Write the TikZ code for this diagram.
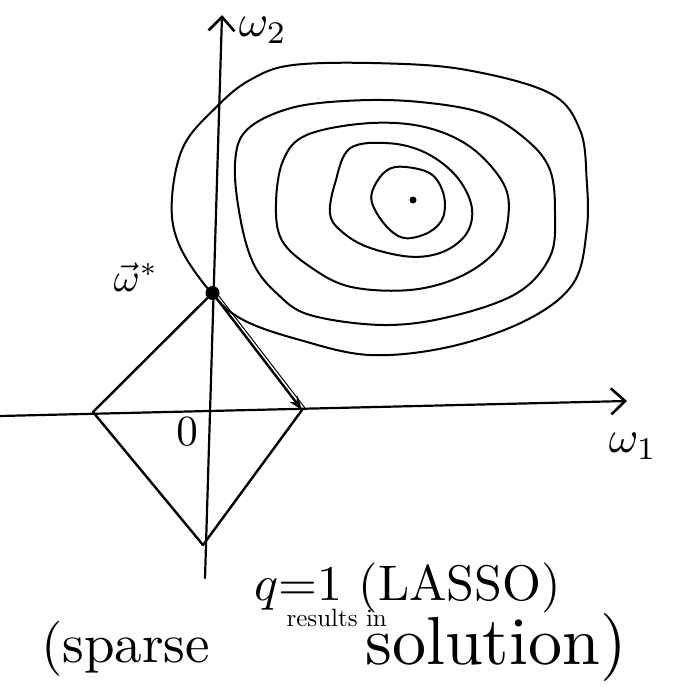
\documentclass[tikz,border=0pt]{standalone}
\usetikzlibrary{arrows.meta}
\begin{document}
\begin{tikzpicture}[x=1pt,y=-1pt, line cap=round, line join=round,
  axis/.style={line width=2.2pt, -{Straight Barb[length=14pt,width=26pt,line width=2.6pt]}},
  contour/.style={line width=2pt},
  edgeline/.style={line width=2.4pt},
  lab/.style={inner sep=0pt},
  dot/.style={circle, fill, inner sep=0pt}]
\useasboundingbox (0,0) rectangle (677,692);

% axes
\coordinate (xs) at (0,416);
\coordinate (xe) at (627,401);
\coordinate (ys) at (205,578);
\coordinate (ye) at (222,15);
\draw[axis] (xs) -- (xe);
\draw[axis] (ys) -- (ye);

% diamond
\coordinate (top) at (212.5,293);
\coordinate (right) at (302,410);
\coordinate (bottom) at (203,545);
\coordinate (left) at (93,412);
\draw[edgeline] (top) -- (left) -- (bottom) -- (right);
\draw[edgeline, -{Stealth[length=14pt,width=10pt]}] (top) -- (right);
\draw[line width=1pt] ([xshift=4pt]top) -- ([xshift=3pt,yshift=2pt]right);

% contours
\draw[contour] plot[smooth cycle, tension=0.6] coordinates {
 (293.3,65) (383.3,63.3) (466.7,70) (550,93.3) (580,130) (586.7,180)
 (586.7,230) (573.3,283.3) (526.7,320) (450,346.7) (370,355) (300,340)
 (243.3,320) (211.7,293.3) (180,246.7) (171.7,203.3) (183.3,146.7)
 (216.7,106.7) (250,80)};
\draw[contour] plot[smooth cycle, tension=0.6] coordinates {
 (290,108.3) (350,100.7) (416.7,101.7) (483.3,113.3) (526.7,140) (550,170)
 (555,213.3) (550,256.7) (516.7,293.3) (450,316.7) (383.3,325) (310,315)
 (276.7,293.3) (253.3,263.3) (240,216.7) (235,163.3) (246.7,130)};
\draw[contour] plot[smooth cycle, tension=0.6] coordinates {
 (306.7,135) (366.7,123.3) (423.3,126.7) (470,146.7) (503.3,183.3)
 (508.3,216.7) (496.7,250) (460,276.7) (410,290) (350,286.7) (310,266.7)
 (281.7,240) (276,203.3) (283.3,160)};
\draw[contour] plot[smooth cycle, tension=0.6] coordinates {
 (350,148.3) (390,143.3) (426.7,153.3) (456.7,176.7) (471.7,206.7)
 (466.7,233.3) (443.3,251.7) (410,256.7) (366.7,246.7) (340,230)
 (330,213.3) (335,183.3)};
\draw[contour] plot[smooth cycle, tension=0.6] coordinates {
 (400,166.7) (430,173.3) (443.3,193.3) (443.3,216.7) (430,231.7)
 (406.7,238.3) (390,230) (375,210) (371.7,193.3) (383.3,173.3)};

% points
\node[dot, minimum size=14pt] (wstar) at (top) {};
\node[dot, minimum size=7pt] (wmin) at (413,200) {};

% labels
\node[lab, scale=4.5] (lw2) at (263,30) {$\omega_2$};
\node[lab, scale=4] (lws) at (136,277) {$\vec{\omega}^{*}$};
\node[lab, scale=4.5] (lw1) at (633,446) {$\omega_1$};
\node[lab, scale=4.3] (lo) at (187,432) {$0$};

\node[lab, scale=5, anchor=base west] (t1) at (253,600) {$q$=1 (LASSO)};
\node[lab, scale=2.5, anchor=base west] (t2) at (286,626) {results in};
\node[lab, scale=5.5, anchor=base west] (t3) at (40,662) {(sparse};
\node[lab, scale=6.8, anchor=base west] (t4) at (364,664) {solution)};
\end{tikzpicture}
\end{document}
